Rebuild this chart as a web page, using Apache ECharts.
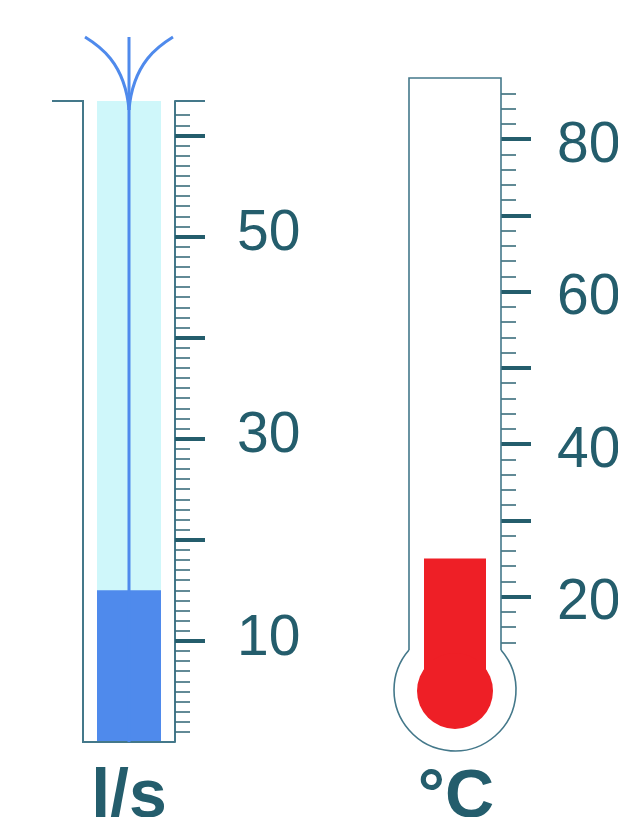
<!DOCTYPE html>
<html>
<head>
<meta charset="utf-8">
<script src="https://cdn.jsdelivr.net/npm/echarts@6/dist/echarts.min.js"></script>
<style>
html,body{margin:0;padding:0;background:#fff;}
#chart{width:618px;height:817px;}
</style>
</head>
<body>
<div id="chart"></div>
<script>
// ---- data ----
const flowCategories = ['l/s'];
const flowValues = [15];
const tempCategories = ['°C'];
const tempValues = [25];

const flowMajorTicks = [10, 20, 30, 40, 50, 60];
const flowMinorTicks = [1,2,3,4,5,6,7,8,9,11,12,13,14,15,16,17,18,19,21,22,23,24,25,26,27,28,29,
  31,32,33,34,35,36,37,38,39,41,42,43,44,45,46,47,48,49,51,52,53,54,55,56,57,58,59,61,62];
const flowTickLabels = [10, 30, 50];

const tempMajorTicks = [20, 30, 40, 50, 60, 70, 80];
const tempMinorTicks = [14,16,18,22,24,26,28,32,34,36,38,42,44,46,48,52,54,56,58,62,64,66,68,72,74,76,78,82,84,86];
const tempTickLabels = [20, 40, 60, 80];

const flowUnit = 'l/s';
const tempUnit = '°C';

// ---- styles ----
const TEAL = '#245d6c';
const FRAME = '#44788a';
const MINOR = '#3a6d7b';
const FONT = 'Liberation Sans, Arial, sans-serif';

function majorAxis(grid, min, max, ticks, labels, margin, showLine, padding) {
  return {
    type: 'value', gridIndex: grid, position: 'right', min: min, max: max,
    splitLine: { show: false },
    axisLine: { show: showLine, lineStyle: { color: FRAME, width: 2 } },
    axisTick: { show: true, length: 30, customValues: ticks, lineStyle: { color: TEAL, width: 4 } },
    axisLabel: {
      show: true, customValues: labels, margin: margin,
      formatter: function (v) { return '{t|' + v + '}'; },
      rich: { t: { fontSize: 57, color: TEAL, fontFamily: FONT, padding: padding } }
    }
  };
}
function minorAxis(grid, min, max, ticks) {
  return {
    type: 'value', gridIndex: grid, position: 'right', min: min, max: max,
    splitLine: { show: false },
    axisLine: { show: false },
    axisTick: { show: true, length: 15, customValues: ticks, lineStyle: { color: MINOR, width: 1.6 } },
    axisLabel: { show: false }
  };
}

const chart = echarts.init(document.getElementById('chart'), null, { renderer: 'canvas' });
const option = {
  animation: false,
  backgroundColor: '#ffffff',
  grid: [
    { left: 83, top: 101, width: 92, height: 641, containLabel: false, outerBoundsMode: 'none' },
    { left: 409, top: 78, width: 92, height: 595, containLabel: false, outerBoundsMode: 'none' }
  ],
  xAxis: [
    { type: 'category', gridIndex: 0, data: flowCategories, show: false },
    { type: 'category', gridIndex: 1, data: tempCategories, show: false }
  ],
  yAxis: [
    majorAxis(0, 0, 63.4, flowMajorTicks, flowTickLabels, 62, true, [0, 0, 4, 0]),
    minorAxis(0, 0, 63.4, flowMinorTicks),
    majorAxis(1, 10, 88, tempMajorTicks, tempTickLabels, 56, false, [14, 0, 0, 0]),
    minorAxis(1, 10, 88, tempMinorTicks)
  ],
  series: [
    {
      type: 'bar', xAxisIndex: 0, yAxisIndex: 0, data: flowValues, barWidth: 64,
      itemStyle: { color: '#4f8aec' },
      showBackground: true, backgroundStyle: { color: '#cff7fa' }
    },
    {
      type: 'bar', xAxisIndex: 1, yAxisIndex: 2, data: tempValues, barWidth: 62,
      itemStyle: { color: '#ee1f26' }
    }
  ],
  graphic: [
    // left vessel frame
    { type: 'polyline', z: 50, shape: { points: [[52, 101], [83, 101], [83, 742], [175, 742]] },
      style: { stroke: FRAME, lineWidth: 2, fill: null } },
    { type: 'line', z: 50, shape: { x1: 175, y1: 101, x2: 205, y2: 101 },
      style: { stroke: FRAME, lineWidth: 2 } },
    // flow jet
    { type: 'line', z: 60, shape: { x1: 129, y1: 37, x2: 129, y2: 742 },
      style: { stroke: '#4f8aec', lineWidth: 3 } },
    { type: 'bezierCurve', z: 60, shape: { x1: 85, y1: 37, cpx1: 98, cpy1: 45, cpx2: 125, cpy2: 62, x2: 129, y2: 110 },
      style: { stroke: '#4f8aec', lineWidth: 3, fill: null } },
    { type: 'bezierCurve', z: 60, shape: { x1: 173, y1: 37, cpx1: 160, cpy1: 45, cpx2: 133, cpy2: 62, x2: 129, y2: 110 },
      style: { stroke: '#4f8aec', lineWidth: 3, fill: null } },
    // thermometer outline
    { type: 'polyline', z: 50, shape: { points: [[409, 650], [409, 78], [501, 78], [501, 650]] },
      style: { stroke: FRAME, lineWidth: 1.6, fill: null } },
    { type: 'arc', z: 50, shape: { cx: 455, cy: 690, r: 61, startAngle: -0.716, endAngle: Math.PI + 0.716, clockwise: true },
      style: { stroke: FRAME, lineWidth: 1.6, fill: null } },
    // bulb
    { type: 'circle', z: 3, shape: { cx: 455, cy: 691, r: 38 }, style: { fill: '#ee1f26' } },
    // units
    { type: 'text', z: 60, x: 129, y: 798, style: { text: flowUnit, fill: TEAL, font: 'bold 68px ' + FONT, align: 'center', verticalAlign: 'middle' } },
    { type: 'text', z: 60, x: 456, y: 798, style: { text: tempUnit, fill: TEAL, font: 'bold 68px ' + FONT, align: 'center', verticalAlign: 'middle' } }
  ]
};
chart.setOption(option);
</script>
</body>
</html>
